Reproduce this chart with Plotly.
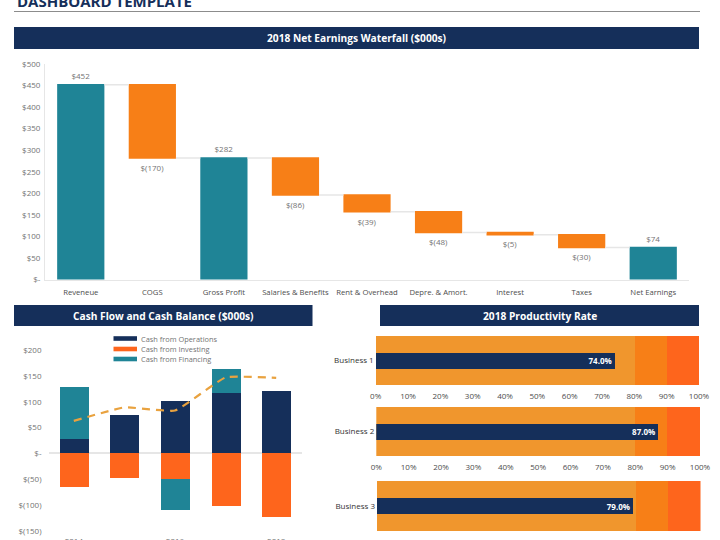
import plotly.graph_objects as go

FONT = "Open Sans"
W, H = 720, 540
NAVY, TEAL, ORANGE, RED, AMBER = "#152F5A", "#1F8496", "#F77F17", "#FE651C", "#F0962D"
GREY, DARK, LINE = "#737373", "#4D4D4D", "#E6E6E6"

# Waterfall
wf_categories = ["Reveneue", "COGS", "Gross Profit", "Salaries & Benefits", "Rent & Overhead",
                 "Depre. & Amort.", "Interest", "Taxes", "Net Earnings"]
wf_values = [452, -170, 282, -86, -39, -48, -5, -30, 74]
wf_measures = ["absolute", "relative", "total", "relative", "relative", "relative", "relative", "relative", "total"]
wf_labels = ["$452", "$(170)", "$282", "$(86)", "$(39)", "$(48)", "$(5)", "$(30)", "$74"]
wf_ticks = [0, 50, 100, 150, 200, 250, 300, 350, 400, 450, 500]
wf_ticklabels = ["$-", "$50", "$100", "$150", "$200", "$250", "$300", "$350", "$400", "$450", "$500"]

# Cash flow
cf_years = ["2014", "2015", "2016", "2017", "2018"]
cf_operations = [28, 74, 102, 116, 120]
cf_investing = [-65, -47, -50, -102, -122]
cf_financing = [100, 0, -60, 48, 0]
cf_balance = [63, 89, 83, 147, 146]
cf_ticks = [-150, -100, -50, 0, 50, 100, 150, 200]
cf_ticklabels = ["$(150)", "$(100)", "$(50)", "$-", "$50", "$100", "$150", "$200"]
cf_legend = ["Cash from Operations", "Cash from Investing", "Cash from Financing"]

# Productivity
businesses = ["Business 1", "Business 2", "Business 3"]
rates = [74.0, 87.0, 79.0]
band_low, band_mid, band_high = 80, 10, 10
pct_ticks = [0, 10, 20, 30, 40, 50, 60, 70, 80, 90, 100]
pct_ticklabels = ["0%", "10%", "20%", "30%", "40%", "50%", "60%", "70%", "80%", "90%", "100%"]

def xd(a, b):
    return [a / W, b / W]

def yd(top, bottom):
    return [1 - bottom / H, 1 - top / H]

fig = go.Figure()

fig.add_trace(go.Waterfall(
    x=wf_categories, y=wf_values, measure=wf_measures, text=wf_labels, textposition="outside",
    textfont=dict(size=8, color=GREY, family=FONT), cliponaxis=False, width=0.66,
    totals=dict(marker=dict(color=TEAL)), decreasing=dict(marker=dict(color=ORANGE)),
    increasing=dict(marker=dict(color=TEAL)),
    connector=dict(line=dict(color=LINE, width=1.5)), xaxis="x", yaxis="y", showlegend=False))

for name, vals, col in [(cf_legend[0], cf_operations, NAVY), (cf_legend[1], cf_investing, RED),
                        (cf_legend[2], cf_financing, TEAL)]:
    fig.add_trace(go.Bar(x=cf_years, y=vals, name=name, marker=dict(color=col, line=dict(width=0)),
                         width=0.57, xaxis="x2", yaxis="y2", showlegend=False))
fig.add_trace(go.Scatter(x=cf_years, y=cf_balance, mode="lines", xaxis="x2", yaxis="y2", showlegend=False,
                         line=dict(color="#E9A23F", width=2.2, dash="8px,6px", shape="spline", smoothing=0.35)))

boxes = [(375.7, 699, 335.7, 385), (376.3, 700, 406.5, 456), (377, 700.5, 481, 531)]
layout = {}
for i, (biz, rate, (x0, x1, y0, y1)) in enumerate(zip(businesses, rates, boxes)):
    xa, ya, yb = f"x{3+i}", f"y{3+2*i}", f"y{4+2*i}"
    for v, col in [(band_low, AMBER), (band_mid, ORANGE), (band_high, RED)]:
        fig.add_trace(go.Bar(y=[biz], x=[v], orientation="h", width=1, marker=dict(color=col, line=dict(width=0)),
                             xaxis=xa, yaxis=ya, showlegend=False))
    fig.add_trace(go.Bar(y=[biz], x=[rate], orientation="h", width=0.33, text=[f"<b>{rate:.1f}%</b>"],
                         textposition="inside", insidetextanchor="end", constraintext="none",
                         textfont=dict(size=8, color="white", family=FONT),
                         marker=dict(color=NAVY, line=dict(width=0)), xaxis=xa, yaxis=yb, showlegend=False))
    layout[f"xaxis{3+i}"] = dict(domain=xd(x0, x1), range=[0, 100], anchor=ya, tickvals=pct_ticks,
                                 ticktext=pct_ticklabels, showgrid=False, zeroline=False, showline=False, ticks="",
                                 ticklabelstandoff=5, tickfont=dict(size=8, color=DARK, family=FONT))
    layout[f"yaxis{3+2*i}"] = dict(domain=yd(y0, y1), anchor=xa, showgrid=False, zeroline=False, showline=False,
                                   ticks="", ticklabelstandoff=1, tickfont=dict(size=8, color="#333333", family=FONT))
    layout[f"yaxis{4+2*i}"] = dict(domain=yd(y0, y1), anchor=xa, overlaying=ya, visible=False, showgrid=False)

banners = [(14, 699, 27, 49, "2018 Net Earnings Waterfall ($000s)"),
           (14, 312.5, 305, 326, "Cash Flow and Cash Balance ($000s)"),
           (380, 699, 305, 326, "2018 Productivity Rate")]
shapes, annotations = [], []
for x0, x1, y0, y1, t in banners:
    shapes.append(dict(type="rect", xref="paper", yref="paper", x0=x0 / W, x1=x1 / W, y0=1 - y0 / H, y1=1 - y1 / H,
                       fillcolor=NAVY, line=dict(width=0), layer="below"))
    annotations.append(dict(text=f"<b>{t}</b>", xref="paper", yref="paper", x=(x0 + x1) / 2 / W, y=1 - (y0 + y1) / 2 / H,
                            xanchor="center", yanchor="middle", showarrow=False,
                            font=dict(size=10.2, color="white", family=FONT)))
shapes.append(dict(type="line", xref="paper", yref="paper", x0=14 / W, x1=700 / W, y0=1 - 11.5 / H, y1=1 - 11.5 / H,
                   line=dict(color="#8C8C8C", width=1)))
annotations.append(dict(text="<b>DASHBOARD TEMPLATE</b>", xref="paper", yref="paper", x=15 / W, y=1 - 1 / H,
                        xanchor="left", yanchor="middle", showarrow=False,
                        font=dict(size=15, color=NAVY, family=FONT)))
for label, col, py in zip(cf_legend, [NAVY, RED, TEAL], [338.5, 349, 359]):
    shapes.append(dict(type="rect", xref="paper", yref="paper", x0=113.5 / W, x1=137 / W, y0=1 - (py - 2.3) / H,
                       y1=1 - (py + 2.3) / H, fillcolor=col, line=dict(width=0)))
    annotations.append(dict(text=label, xref="paper", yref="paper", x=139 / W, y=1 - py / H, xanchor="left",
                            yanchor="middle", showarrow=False, font=dict(size=7.4, color=GREY, family=FONT)))

fig.update_layout(
    template="none", width=W, height=H, autosize=False,
    margin=dict(l=0, r=0, t=0, b=0), paper_bgcolor="white", plot_bgcolor="white",
    barmode="relative", bargap=0, shapes=shapes, annotations=annotations, showlegend=False,
    font=dict(family=FONT, size=8, color=DARK),
    xaxis=dict(domain=xd(45, 689), anchor="y", showgrid=False, zeroline=False, showline=True, linecolor=LINE, linewidth=1,
               ticks="", ticklabelstandoff=5, tickfont=dict(size=7.7, color=DARK, family=FONT)),
    yaxis=dict(domain=yd(64, 279.5), anchor="x", range=[0, 500], tickvals=wf_ticks, ticktext=wf_ticklabels,
               showgrid=False, zeroline=False, showline=True, linecolor=LINE, linewidth=1, ticks="",
               ticklabelstandoff=2, tickfont=dict(size=8, color=GREY, family=FONT)),
    xaxis2=dict(domain=xd(48.5, 301.5), anchor="y2", showgrid=False, zeroline=False, showline=False, ticks="",
                ticklabelstandoff=4, tickfont=dict(size=8, color=GREY, family=FONT)),
    yaxis2=dict(domain=yd(350, 531), anchor="x2", range=[-150, 200], tickvals=cf_ticks, ticktext=cf_ticklabels,
                showgrid=False, zeroline=True, zerolinecolor=LINE, zerolinewidth=1.5, showline=False, ticks="",
                ticklabelstandoff=6, tickfont=dict(size=8, color=GREY, family=FONT)),
    **layout)

fig.write_html("out.html", config={"displayModeBar": False},
               post_script="document.body.style.margin='0';")
